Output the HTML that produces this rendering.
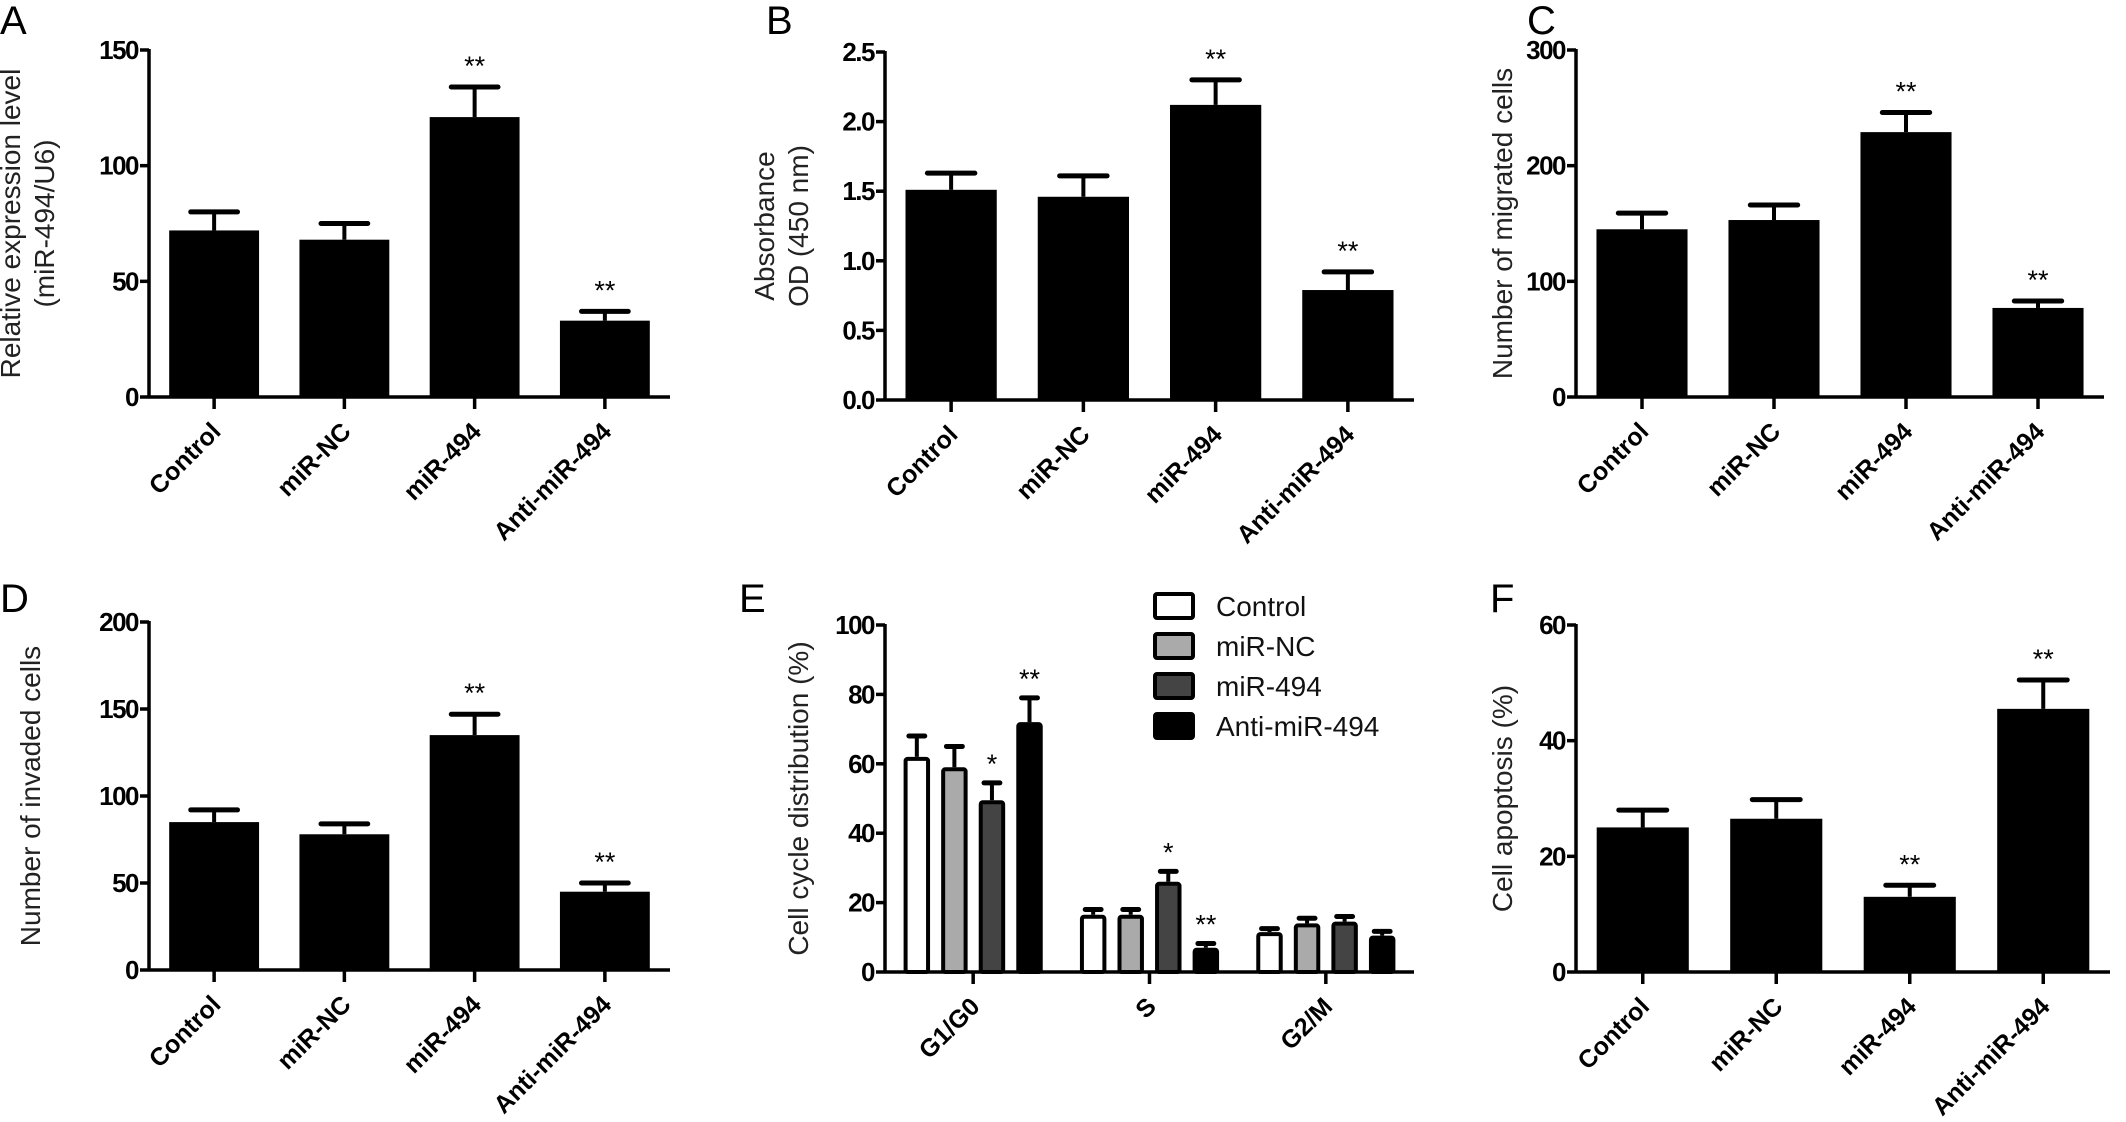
<!DOCTYPE html>
<html><head><meta charset="utf-8">
<style>
html,body{margin:0;padding:0;background:#fff;}
svg{display:block;}
text{font-family:"Liberation Sans",Arial,sans-serif;}
.tick{font-weight:bold;font-size:26px;letter-spacing:-1.5px;}
.xl{font-weight:bold;font-size:25px;}
.yt{font-size:28px;fill:#222;}
.pl{font-size:40px;}
.star{font-size:27px;}
.leg{font-size:28px;fill:#111;}
</style></head>
<body>
<svg id="fig" width="2126" height="1122" viewBox="0 0 2126 1122" xmlns="http://www.w3.org/2000/svg"></svg>
<script>
const groups = ["Control","miR-NC","miR-494","Anti-miR-494"];
const aValues = [72,68,121,33];
const aErrors = [8,7,13,4];
const aStars = ["","","**","**"];
const aTicks = [0,50,100,150];
const bValues = [1.51,1.46,2.12,0.79];
const bErrors = [0.12,0.15,0.18,0.13];
const bStars = ["","","**","**"];
const bTicks = ["0.0","0.5","1.0","1.5","2.0","2.5"];
const cValues = [145,153,229,77];
const cErrors = [14,13,17,6];
const cStars = ["","","**","**"];
const cTicks = [0,100,200,300];
const dValues = [85,78,135,45];
const dErrors = [7,6,12,5];
const dStars = ["","","**","**"];
const dTicks = [0,50,100,150,200];
const phases = ["G1/G0","S","G2/M"];
const eControl = [62,16.5,11.5];
const eControlErr = [6,1.5,1];
const eNC = [59,16.5,14];
const eNCErr = [6,1.5,1.5];
const e494 = [49.5,26,14.5];
const e494Err = [5,3,1.5];
const eAnti = [72,7,10.5];
const eAntiErr = [7,1.2,1.2];
const e494Stars = ["*","*",""];
const eAntiStars = ["**","**",""];
const eTicks = [0,20,40,60,80,100];
const fValues = [25,26.5,13,45.5];
const fErrors = [3,3.3,2,5];
const fStars = ["","","**","**"];
const fTicks = [0,20,40,60];

const NS="http://www.w3.org/2000/svg";
const svg=document.getElementById('fig');
function el(tag,attrs,parent,txt){const e=document.createElementNS(NS,tag);for(const k in attrs)e.setAttribute(k,attrs[k]);if(txt!==undefined)e.textContent=txt;(parent||svg).appendChild(e);return e;}

function panel(cfg){
  const g=el('g',{});
  
  
  const max=cfg.max, x0=cfg.x0, x1=cfg.x1, yTop=cfg.yTop, yZero=cfg.yZero;
  const y=v=>yZero-(v/max)*(yZero-yTop);
  const L=el('text',{x:cfg.lx,y:cfg.ly,class:'pl'},g,cfg.letter);
  
  
  const tg=el('g',{},g);
  
  
  cfg.title.forEach((t,i)=>{
    const tx=cfg.tx+i*34, ty=(yTop+yZero)/2;
    el('text',{x:tx,y:ty,class:'yt','text-anchor':'middle',transform:`rotate(-90 ${tx} ${ty})`},tg,t);
  });
  const ax=el('g',{stroke:'#000','stroke-width':3.5,fill:'none'},g);
  
  
  el('line',{x1:x0,y1:yTop-1,x2:x0,y2:yZero+1.5},ax);
  el('line',{x1:x0,y1:yZero,x2:x1,y2:yZero},ax);
  cfg.ticks.forEach(t=>{
    const v=parseFloat(t), yy=y(v);
    el('line',{x1:x0-9,y1:yy,x2:x0,y2:yy},ax);
    const tl=el('text',{x:x0-11,y:yy+9,class:'tick','text-anchor':'end'},g,String(t));
    
    
  });
  return {g,y,ax};
}

function barPanel(cfg,values,errors,stars){
  const p=panel(cfg);
  const n=values.length, sp=(cfg.x1-cfg.x0)/n, bw=sp*0.69;
  values.forEach((v,i)=>{
    const cx=cfg.x0+sp*(i+0.5), top=p.y(v), et=p.y(v+errors[i]);
    const r=el('rect',{x:cx-bw/2,y:top,width:bw,height:cfg.yZero-top,fill:'#000'},p.g);
    
    
    const eg=el('g',{stroke:'#000','stroke-width':4},p.g);
    
    
    el('line',{x1:cx,y1:top,x2:cx,y2:et},eg);
    el('line',{x1:cx-bw*0.26,y1:et,x2:cx+bw*0.26,y2:et,'stroke-linecap':'round','stroke-width':5},eg);
    el('line',{x1:cx,y1:cfg.yZero,x2:cx,y2:cfg.yZero+12},p.ax);
    if(stars[i]){const s=el('text',{x:cx,y:et-12,class:'star','text-anchor':'middle'},p.g,stars[i]);
      
      }
    const lx=cx+8, ly=cfg.yZero+36;
    const t=el('text',{x:lx,y:ly,class:'xl','text-anchor':'end',transform:`rotate(-45 ${lx} ${ly})`},p.g,groups[i]);
    
    
  });
}

barPanel({letter:'A',lx:0,ly:34,title:['Relative expression level','(miR-494/U6)'],tx:20,x0:149,x1:670,yTop:50,yZero:397,max:150,ticks:aTicks},aValues,aErrors,aStars);
barPanel({letter:'B',lx:766,ly:34,title:['Absorbance','OD (450 nm)'],tx:774,x0:885,x1:1414,yTop:52,yZero:400,max:2.5,ticks:bTicks},bValues,bErrors,bStars);
barPanel({letter:'C',lx:1527,ly:34,title:['Number of  migrated cells'],tx:1512,x0:1576,x1:2104,yTop:50,yZero:397,max:300,ticks:cTicks},cValues,cErrors,cStars);
barPanel({letter:'D',lx:0,ly:612,title:['Number of invaded cells'],tx:40,x0:149,x1:670,yTop:622,yZero:970,max:200,ticks:dTicks},dValues,dErrors,dStars);
barPanel({letter:'F',lx:1490,ly:612,title:['Cell apoptosis (%)'],tx:1512,x0:1576,x1:2110,yTop:625,yZero:972,max:60,ticks:fTicks},fValues,fErrors,fStars);

(function(){
  const cfg={letter:'E',lx:739,ly:612,title:['Cell cycle distribution (%)'],tx:808,x0:885,x1:1414,yTop:625,yZero:972,max:100,ticks:eTicks};
  const p=panel(cfg);
  const series=[eControl,eNC,e494,eAnti], errs=[eControlErr,eNCErr,e494Err,eAntiErr];
  const stars=[["","",""],["","",""],e494Stars,eAntiStars];
  const fills=['#fff','#aaa','#444','#000'];
  const sp=(cfg.x1-cfg.x0)/phases.length, bw=sp*0.15, step=sp*0.213;
  phases.forEach((ph,j)=>{
    const gc=cfg.x0+sp*(j+0.5);
    el('line',{x1:gc,y1:cfg.yZero,x2:gc,y2:cfg.yZero+12},p.ax);
    series.forEach((s,k)=>{
      const cx=gc+(k-1.5)*step, v=s[j], top=p.y(v), et=p.y(v+errs[k][j]);
      const eg=el('g',{stroke:'#000','stroke-width':4},p.g);
      
      
      el('line',{x1:cx,y1:top,x2:cx,y2:et},eg);
      el('line',{x1:cx-bw*0.3,y1:et,x2:cx+bw*0.3,y2:et,'stroke-linecap':'round','stroke-width':5},eg);
      const r=el('rect',{x:cx-bw/2+2,y:top+2,width:bw-4,height:cfg.yZero-top-2,fill:fills[k],stroke:'#000','stroke-width':4,rx:2},p.g);
      
      
      if(stars[k][j]){const st=el('text',{x:cx,y:et-10,class:'star','text-anchor':'middle'},p.g,stars[k][j]);
        
        }
    });
    const lx=gc+8, ly=cfg.yZero+36;
    const t=el('text',{x:lx,y:ly,class:'xl','text-anchor':'end',transform:`rotate(-45 ${lx} ${ly})`},p.g,ph);
    
    
  });
  const lg=el('g',{},p.g);
  
  
  groups.forEach((name,k)=>{
    const yy=606+k*40;
    const e=el('g',{},lg);
    
    
    el('rect',{x:1155,y:yy-12,width:38,height:24,fill:fills[k],stroke:'#000','stroke-width':4,rx:2},e);
    el('text',{x:1216,y:yy+10,class:'leg'},e,name);
  });
})();
</script>
</body></html>
